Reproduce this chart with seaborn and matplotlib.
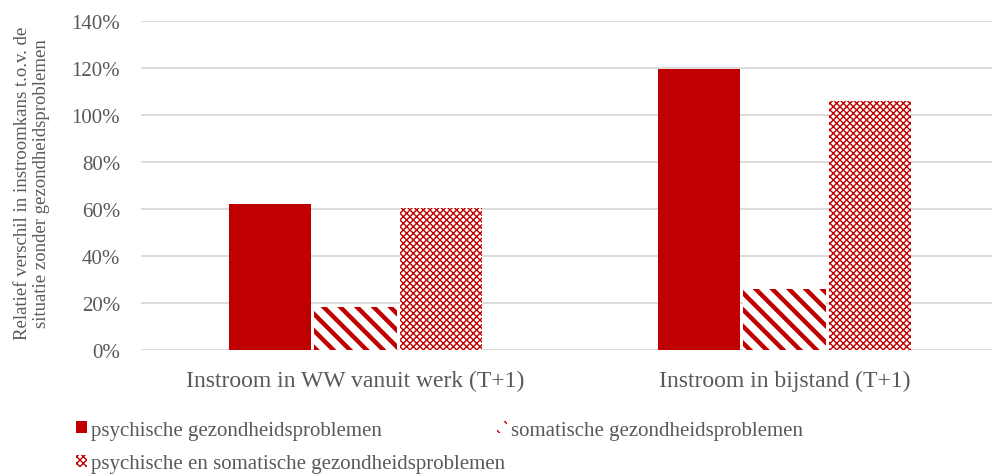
import pandas as pd
import matplotlib.pyplot as plt
import seaborn as sns
from matplotlib.patches import Patch

groups = ["Instroom in WW vanuit werk (T+1)", "Instroom in bijstand (T+1)"]
series = ["psychische gezondheidsproblemen",
          "somatische gezondheidsproblemen",
          "psychische en somatische gezondheidsproblemen"]
psychisch = [62, 119.5]
somatisch = [18.5, 26]
beide = [60.5, 106]

df = pd.DataFrame({
    "groep": groups * 3,
    "soort": [series[0]] * 2 + [series[1]] * 2 + [series[2]] * 2,
    "waarde": psychisch + somatisch + beide,
})

red = "#C00000"
grey = "#595959"

sns.set_style("white")
plt.rcParams["font.family"] = ["Liberation Serif", "DejaVu Serif"]

fig = plt.figure(figsize=(9.92, 4.77), dpi=100)
ax = fig.add_axes([141 / 992, 1 - 351 / 477, 858 / 992, 329 / 477])

sns.barplot(data=df, x="groep", y="waarde", hue="soort", hue_order=series,
            order=groups, width=0.6, gap=0.04, ax=ax, legend=False,
            palette=[red, red, red], saturation=1)

# solid / diagonal stripes / fine checker
hatches = [None, "\\\\", "xxxxx"]
hlw = [0, 3.2, 1.0]
for cont, h, lw in zip(ax.containers, hatches, hlw):
    for bar in cont:
        bar.set_linewidth(0)
        bar.set_edgecolor(red)
        if h is None:
            bar.set_facecolor(red)
        else:
            bar.set_facecolor("white")
            bar.set_hatch(h)
            if hasattr(bar, "set_hatch_linewidth"):
                bar.set_hatch_linewidth(lw)

ax.set_ylim(0, 140)
ax.set_xlim(-0.5, 1.5)
ax.set_yticks(range(0, 141, 20))
ax.set_yticklabels([f"{v}%" for v in range(0, 141, 20)])
ax.yaxis.grid(True, color="#D9D9D9", linewidth=1.3)
ax.set_axisbelow(True)
for s in ax.spines.values():
    s.set_visible(False)
ax.tick_params(axis="y", length=0, labelsize=15, colors=grey, pad=15)
ax.tick_params(axis="x", length=0, labelsize=17, colors=grey, pad=14)
ax.set_xlabel("")
ax.set_ylabel("Relatief verschil in instroomkans t.o.v. de\nsituatie zonder gezondheidsproblemen",
              fontsize=13.5, color=grey, linespacing=1.15)
ax.yaxis.set_label_coords(-0.106, 0.51)

handles = [Patch(facecolor=red, edgecolor=red, linewidth=0),
           Patch(facecolor="white", edgecolor=red, hatch="\\\\", linewidth=0),
           Patch(facecolor="white", edgecolor=red, hatch="xxxxx", linewidth=0)]
order = [0, 2, 1]
leg = fig.legend([handles[i] for i in order], [series[i] for i in order],
                 loc="upper left", bbox_to_anchor=(0.077, 0.116), ncol=2,
                 frameon=False, fontsize=15, handlelength=0.5, handleheight=0.5,
                 handletextpad=0.2, columnspacing=-0.4, labelspacing=0.7,
                 borderaxespad=0, borderpad=0)
for t in leg.get_texts():
    t.set_color(grey)

fig.savefig("out.png", dpi=100)
